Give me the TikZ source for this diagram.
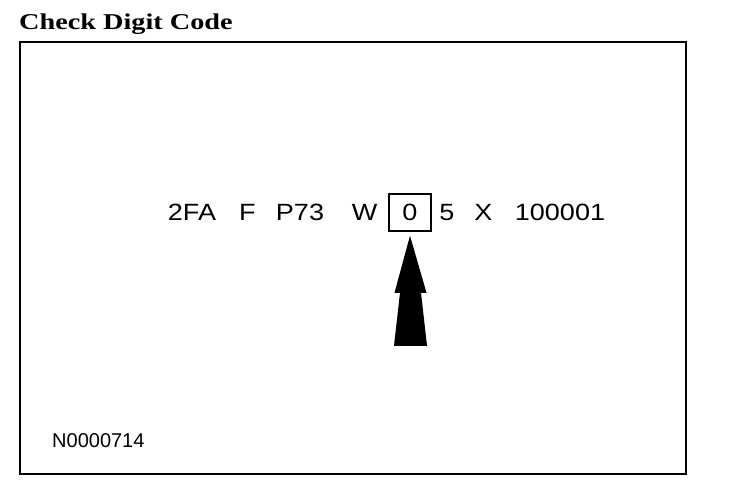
\documentclass[tikz,border=0pt]{standalone}
\usepackage{fontspec}
\setmainfont{Liberation Sans}
\newfontfamily\titlefont{Liberation Serif}
\newcommand{\wide}[1]{\scalebox{1.15}[1]{#1}}

\begin{document}
\begin{tikzpicture}[x=1pt, y=-1pt,
    code/.style={anchor=base, inner sep=0pt, font=\fontsize{23.5}{24}\selectfont},
    ]
    \useasboundingbox (0,0) rectangle (736,492);

    \node[anchor=base west, inner sep=0pt] (title) at (19,30)
    	{\titlefont\bfseries\fontsize{22.6}{24}\selectfont\scalebox{1.25}[1]{Check Digit Code}};
    \draw[line width=2pt] (20,42) rectangle (686,474);

    % VIN groups
    \node[code] (wmi)       at (192,220)   {\wide{2FA}};
    \node[code] (restraint) at (247.5,220) {\wide{F}};
    \node[code] (model)     at (300,220)   {\wide{P73}};
    \node[code] (engine)    at (364.5,220) {\wide{W}};
    \node[code] (year)      at (447,220)   {\wide{5}};
    \node[code] (plant)     at (483.5,220) {\wide{X}};
    \node[code] (serial)    at (560,220)   {\wide{100001}};
    \node[code, anchor=center, draw, line width=1.5pt, minimum width=42pt,
    	minimum height=37pt] (check) at (410,212.5) {\wide{0}};

    \fill (check.south) ++(0,4) -- ++(16.5,57) -- ++(-5.5,0) -- ++(6,53)
    	-- ++(-33,0) -- ++(6,-53) -- ++(-5.5,0) -- cycle;

    \node[anchor=base west, inner sep=0pt, font=\fontsize{20}{22}\selectfont]
    	(figno) at (52,447) {N0000714};

\end{tikzpicture}
\end{document}
